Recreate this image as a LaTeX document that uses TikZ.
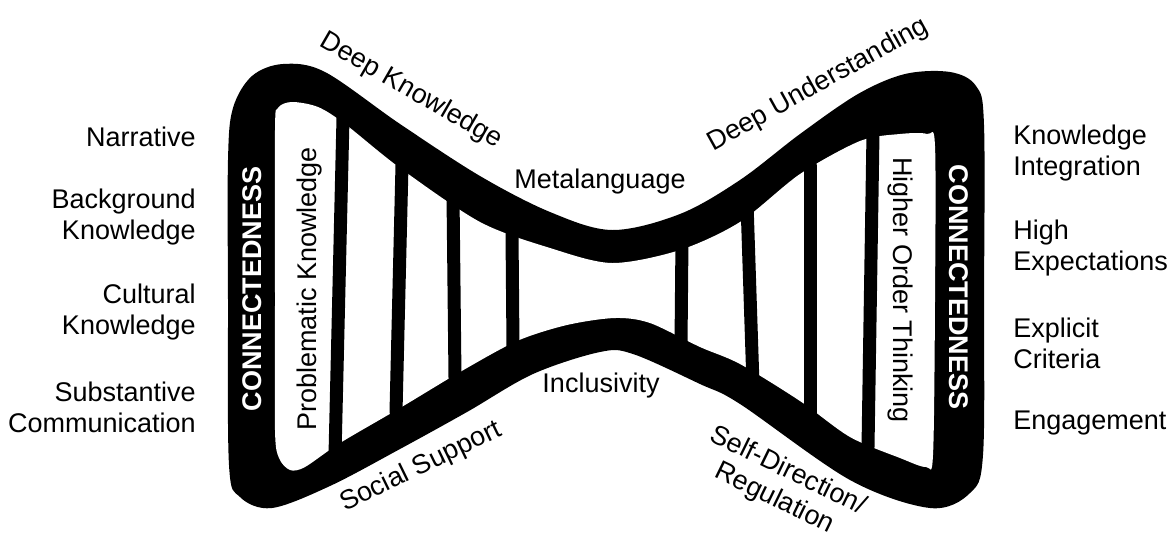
\documentclass[tikz,border=0pt]{standalone}
\usepackage{fontspec}
\setmainfont{Liberation Sans}
\begin{document}
\begin{tikzpicture}[x=0.5pt, y=-0.5pt, font=\fontsize{13.5}{15.5}\selectfont]
\tikzset{lab/.style={inner sep=0pt, align=center},
    sidel/.style={inner sep=0pt, anchor=east, align=right},
    sider/.style={inner sep=0pt, anchor=west, align=left},
    bandtxt/.style={inner sep=0pt, text=white, font=\fontsize{13.5}{15.5}\selectfont\bfseries},
    rung/.style={line width=6.5pt, line cap=round}}
\useasboundingbox (0,0) rectangle (1172,541);

% outer outline of the hourglass
\fill[black] plot[smooth cycle, tension=0.55] coordinates {
    (228,300) (228,160) (233,108) (252,76) (283,64) (325,72) (400,124)
    (480,176) (550,212) (612,230) (680,214) (740,180) (800,134) (858,94)
    (905,74) (950,72) (976,86) (984,125) (984,300) (983,455) (970,493)
    (930,508) (850,480) (740,404) (700,384) (633,354) (600,352) (533,374)
    (467,412) (400,449) (330,486) (272,508) (240,497) (229,465)};
% inner opening
\fill[white] plot[smooth cycle, tension=0.5] coordinates {
    (275,300) (275,130) (278,108) (292,102) (318,107) (345,124) (400,168)
    (480,222) (550,248) (612,263) (680,250) (740,222) (800,174) (860,141)
    (900,134) (927,134) (935,146) (935,300) (933,455) (926,467) (900,458)
    (850,437) (800,401) (740,364) (700,347) (650,323) (615,318) (567,325)
    (517,341) (460,372) (400,408) (340,443) (305,467) (290,470) (279,458)
    (275,430)};

% rungs
\foreach \xa/\ya/\xb/\yb in {343/118/335/455, 402/165/396/412, 453/195/455/378,
    512/232/513/348, 682/238/681/345, 747/203/753/385, 810/166/810/418, 873/133/868/447}
  \draw[rung] (\xa,\ya) -- (\xb,\yb);

% texts on the band
\node[bandtxt, rotate=90] (connL) at (252,289) {CONNECTEDNESS};
\node[bandtxt, rotate=-90] (connR) at (959,287) {CONNECTEDNESS};
\node[lab, rotate=90] (probk) at (310,289) {Problematic Knowledge};
\node[lab, rotate=-90] (higher) at (900,290) {Higher Order Thinking};
\node[lab, rotate=-30] (deepk) at (411,91) {Deep Knowledge};
\node[lab, rotate=29] (deepu) at (818,85) {Deep Understanding};
\node[lab] (meta) at (600,182) {Metalanguage};
\node[lab] (incl) at (601,386) {Inclusivity};
\node[lab, rotate=26] (social) at (421,467) {Social Support};
\node[lab, rotate=-26] (selfd) at (781,485) {Self-Direction/\\Regulation};

% left column
\node[sidel] (narr) at (196,137) {Narrative};
\node[sidel] (backk) at (196,217) {Background\\Knowledge};
\node[sidel] (cultk) at (196,312) {Cultural\\Knowledge};
\node[sidel] (subst) at (196,407) {Substantive\\Communication};

% right column
\node[sider] (integ) at (1013,153) {Knowledge\\Integration};
\node[sider] (highe) at (1013,248) {High\\Expectations};
\node[sider] (expl) at (1013,343) {Explicit\\Criteria};
\node[sider] (engag) at (1013,423) {Engagement};
\end{tikzpicture}
\end{document}
